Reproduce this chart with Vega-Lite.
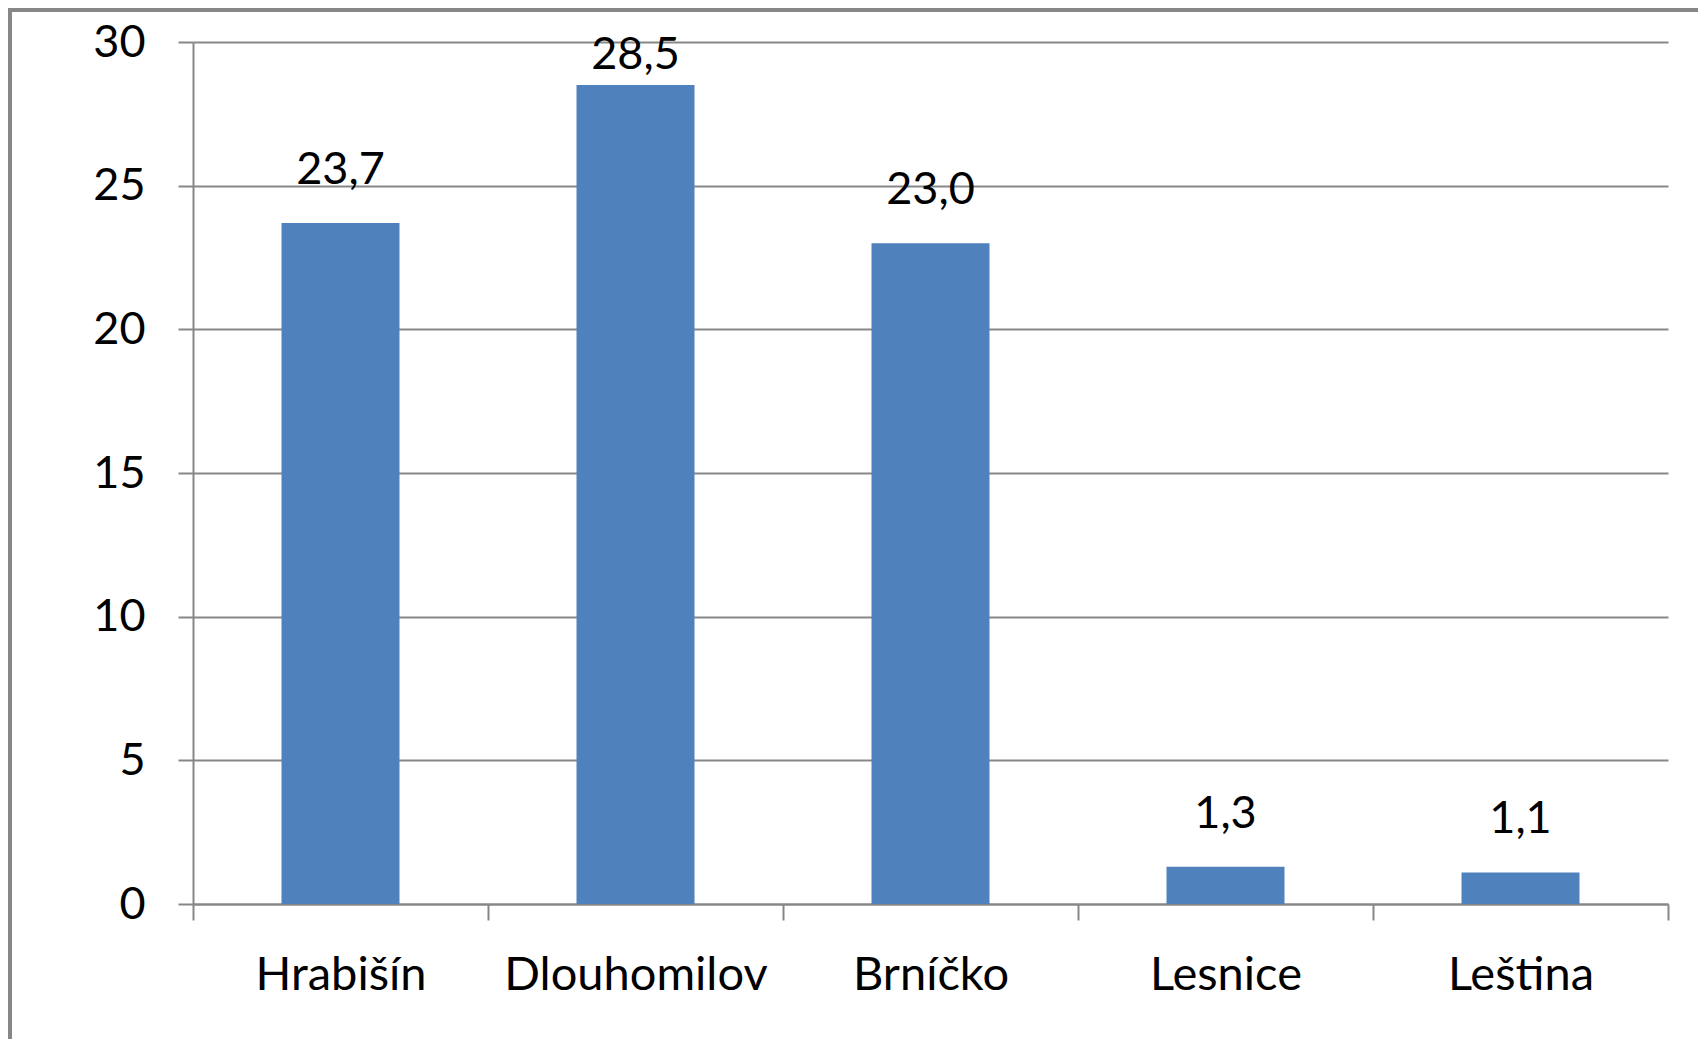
{
  "$schema": "https://vega.github.io/schema/vega-lite/v6.json",
  "width": 1698,
  "height": 1039,
  "autosize": {"type": "none"},
  "padding": {"left": 10, "top": 10, "right": -10, "bottom": -10},
  "background": "white",
  "config": {
    "locale": {"number": {"decimal": ",", "thousands": " ", "grouping": [3], "currency": ["", " Kč"]}},
    "view": {"stroke": "#878787", "strokeWidth": 4, "fill": "white"},
    "font": "Lato"
  },
  "data": {
    "values": [
      {"obec": "Hrabišín", "value": 23.7},
      {"obec": "Dlouhomilov", "value": 28.5},
      {"obec": "Brníčko", "value": 23.0},
      {"obec": "Lesnice", "value": 1.3},
      {"obec": "Leština", "value": 1.1}
    ]
  },
  "encoding": {
    "x": {
      "field": "obec",
      "type": "nominal",
      "sort": null,
      "scale": {"range": [183, 1658], "paddingInner": 0, "paddingOuter": 0},
      "axis": {
        "orient": "bottom",
        "offset": -145,
        "title": null,
        "labelAngle": 0,
        "labelFont": "Lato",
        "labelFontSize": 47,
        "labelColor": "#000000",
        "labelBaseline": "alphabetic",
        "labelPadding": 69,
        "labelLimit": 0,
        "labelOverlap": false,
        "tickBand": "extent",
        "tickSize": 16,
        "tickWidth": 2,
        "tickColor": "#878787",
        "domainColor": "#878787",
        "domainWidth": 2,
        "grid": false
      }
    },
    "y": {
      "field": "value",
      "type": "quantitative",
      "scale": {"domain": [0, 30], "range": [894, 32], "nice": false, "zero": true},
      "axis": {
        "orient": "left",
        "offset": -183,
        "title": null,
        "values": [0, 5, 10, 15, 20, 25, 30],
        "labelFont": "Lato",
        "labelFontSize": 45,
        "labelColor": "#000000",
        "labelPadding": 33,
        "labelBaseline": "middle",
        "tickSize": 15,
        "tickWidth": 2,
        "tickColor": "#878787",
        "domainColor": "#878787",
        "domainWidth": 2,
        "grid": true,
        "gridColor": "#878787",
        "gridWidth": 2
      }
    }
  },
  "layer": [
    {
      "mark": {"type": "bar", "color": "#4F81BD", "width": {"band": 0.4}}
    },
    {
      "transform": [{"filter": "datum.value <= 27"}],
      "mark": {"type": "text", "font": "Lato", "fontSize": 45, "color": "#000000", "align": "center", "baseline": "alphabetic", "dy": -39},
      "encoding": {"text": {"field": "value", "type": "quantitative", "format": ".1f"}}
    },
    {
      "transform": [{"filter": "datum.value > 27"}],
      "mark": {"type": "text", "font": "Lato", "fontSize": 45, "color": "#000000", "align": "center", "baseline": "alphabetic", "dy": -16},
      "encoding": {"text": {"field": "value", "type": "quantitative", "format": ".1f"}}
    }
  ]
}
